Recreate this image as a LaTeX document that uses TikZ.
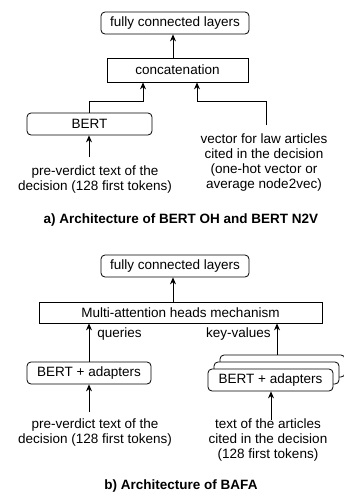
\documentclass[tikz,border=0pt]{standalone}
\usepackage{fontspec}
\setmainfont{Liberation Sans}
\usetikzlibrary{arrows.meta}

\tikzset{
  rbox/.style={draw, fill=white, rounded corners=4pt, line width=0.8pt,
    minimum height=22pt, inner sep=0pt},
  sbox/.style={draw, fill=white, line width=0.8pt, inner sep=0pt},
  txt/.style={align=center, inner sep=0pt},
  captxt/.style={font=\fontsize{13.5}{15}\selectfont\bfseries, inner sep=0pt},
}

\begin{document}
\begin{tikzpicture}[x=1pt, y=-1pt, line width=0.8pt,
    >={Stealth[length=7pt,width=6pt]},
    font=\fontsize{13.5}{15}\selectfont]
    \useasboundingbox (0,0) rectangle (344,493);

    % a) BERT OH / BERT N2V
    \node (fcA) [rbox, minimum width=148pt] at (175,23) {fully connected layers};
    \node (concat) [sbox, minimum width=141pt, minimum height=24pt] at (177.5,70) {concatenation};
    \node (bertA) [rbox, minimum width=125pt] at (89.5,124) {BERT};
    \node (preA) [txt] at (95,180) {pre-verdict text of the\\decision (128 first tokens)};
    \node (vec) [txt] at (264,163) {vector for law articles\\cited in the decision\\(one-hot vector or\\average node2vec)};
    \node (capA) [captxt] at (181,220) {a) Architecture of BERT OH and BERT N2V};
    \coordinate (preAtop) at (89,157);
    \coordinate (vecTop) at (266,125);

    \draw [->] ([xshift=-4.5pt]concat.north) -- ([xshift=-4.5pt]concat.north |- fcA.south);
    \draw [->] (bertA.north) -- ++(0,-11) -| ([xshift=-34.5pt]concat.south);
    \draw [->] (vecTop) -- ++(0,-24) -| ([xshift=19.5pt]concat.south);
    \draw [->] (preAtop) -- (preAtop |- bertA.south);

    % b) BAFA
    \node (fcB) [rbox, minimum width=148pt] at (175,266) {fully connected layers};
    \node (mah) [sbox, minimum width=283pt, minimum height=21pt] at (180.5,312.5) {Multi-attention heads mechanism};
    \node (bertB) [rbox, minimum width=124pt] at (89,373) {BERT + adapters};
    \node (bertC3) [rbox, minimum width=125pt] at (282.5,366) {};
    \node (bertC2) [rbox, minimum width=125pt] at (276.5,373) {};
    \node (bertC) [rbox, minimum width=125pt] at (270.5,380) {BERT + adapters};
    \node (preB) [txt] at (95,432.5) {pre-verdict text of the\\decision (128 first tokens)};
    \node (artC) [txt] at (268,440) {text of the articles\\cited in the decision\\(128 first tokens)};
    \node (capB) [captxt] at (181,486) {b) Architecture of BAFA};
    \coordinate (preBtop) at (89,412);
    \coordinate (artCtop) at (271,420);

    \draw [->] ([xshift=-7.5pt]mah.north) -- ([xshift=-7.5pt]mah.north |- fcB.south);
    \draw [->] (bertB.north) -- (bertB.north |- mah.south)
        node [pos=0.72, right=8pt, inner sep=0pt] {queries};
    \draw [->] ([xshift=-5.5pt]bertC3.north) -- ([xshift=-5.5pt]bertC3.north |- mah.south)
        node [pos=0.65, left=6pt, inner sep=0pt] {key-values};
    \draw [->] (preBtop) -- (preBtop |- bertB.south);
    \draw [->] (artCtop) -- (artCtop |- bertC.south);
\end{tikzpicture}
\end{document}
